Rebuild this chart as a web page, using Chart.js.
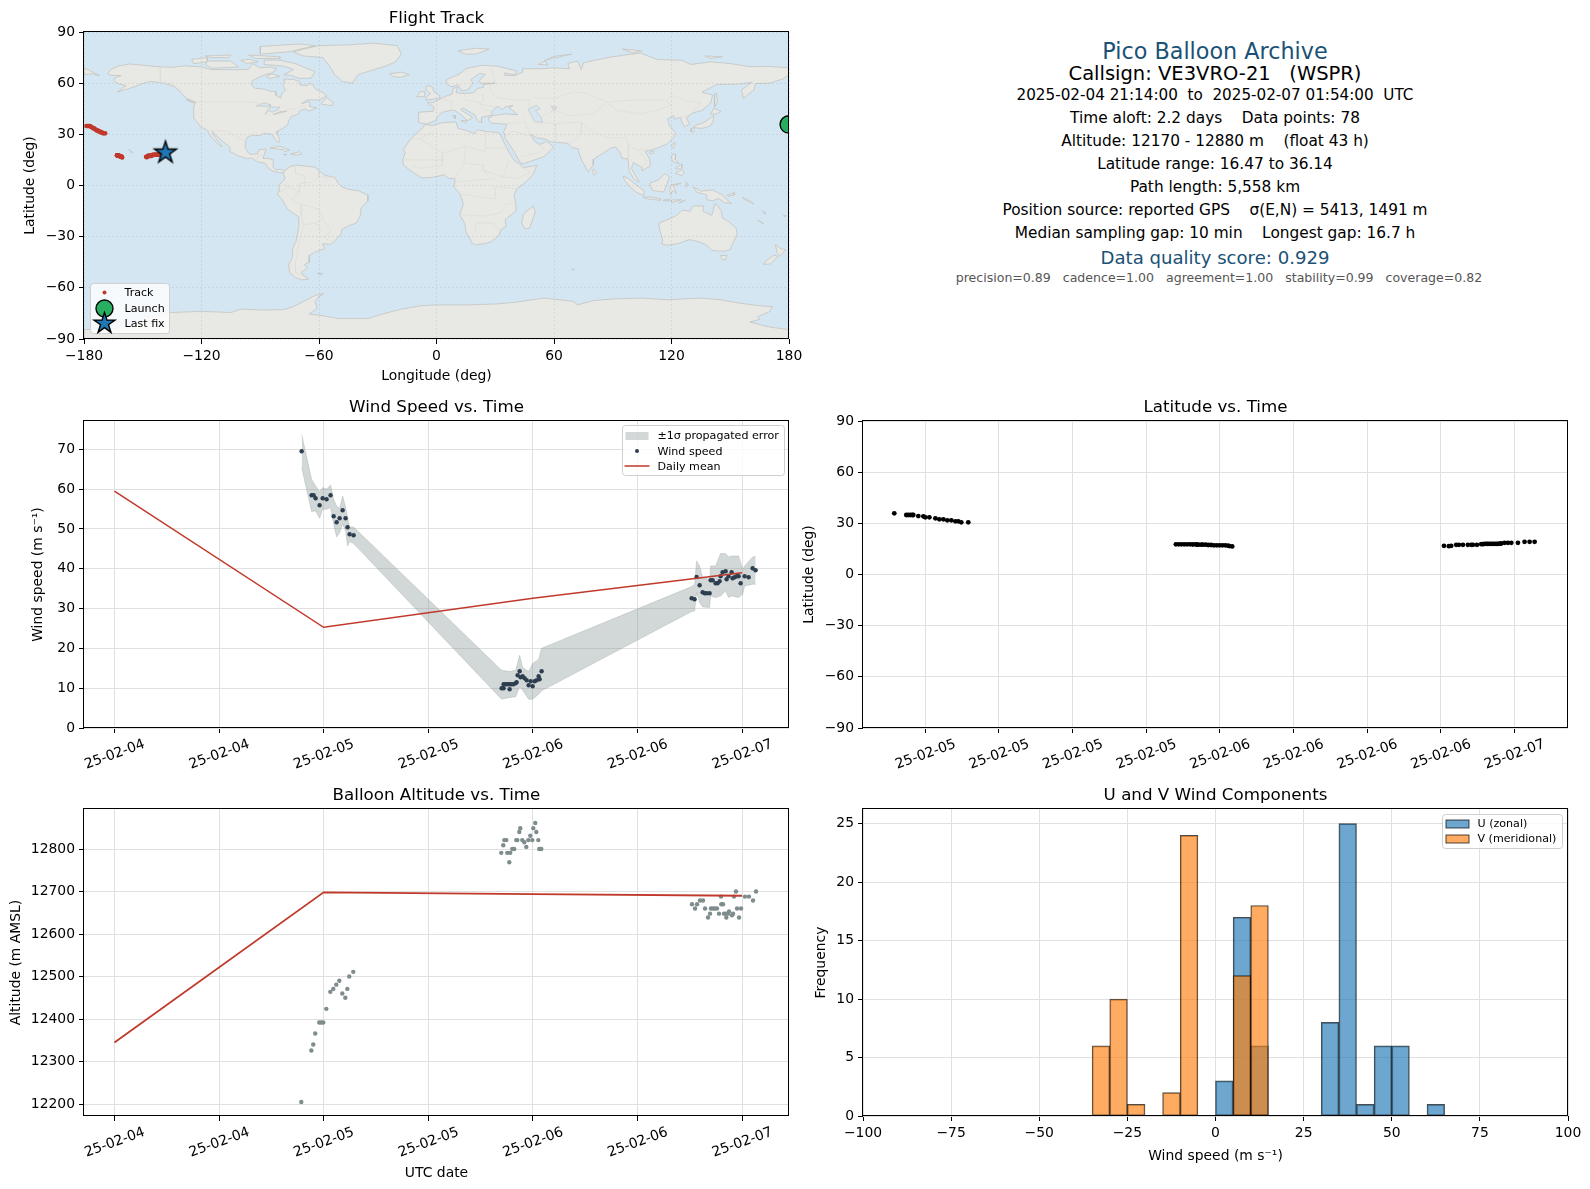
<!DOCTYPE html>
<html>
<head>
<meta charset="utf-8">
<title>Pico Balloon Archive</title>
<script src="https://cdn.jsdelivr.net/npm/chart.js@4/dist/chart.umd.min.js"></script>
<style>
html,body{margin:0;padding:0;background:#fff;font-family:"DejaVu Sans",sans-serif;}
#page{position:relative;width:1590px;height:1189px;overflow:hidden;}
canvas{position:absolute;display:block;}
.info{position:absolute;left:1215px;transform:translate(-50%,-50%);white-space:pre;color:#000;line-height:1;}
</style>
</head>
<body>
<div id="page"></div>
<script>
// ---------- summary text ----------
const infoLines = [
  ['Pico Balloon Archive', 22.3, '#1a5276', 51, 0],
  ['Callsign: VE3VRO-21   (WSPR)', 19.5, '#000', 74, 0],
  ['2025-02-04 21:14:00  to  2025-02-07 01:54:00  UTC', 15.2, '#000', 96, 0],
  ['Time aloft: 2.2 days    Data points: 78', 15.35, '#000', 119, 0],
  ['Altitude: 12170 - 12880 m    (float 43 h)', 15.35, '#000', 142, 0],
  ['Latitude range: 16.47 to 36.14', 15.35, '#000', 165, 0],
  ['Path length: 5,558 km', 15.35, '#000', 188, 0],
  ['Position source: reported GPS    σ(E,N) = 5413, 1491 m', 15.35, '#000', 211, 0],
  ['Median sampling gap: 10 min    Longest gap: 16.7 h', 15.35, '#000', 234, 0],
  ['Data quality score: 0.929', 18.1, '#1a5276', 258, 0],
  ['precision=0.89   cadence=1.00   agreement=1.00   stability=0.99   coverage=0.82', 12.55, '#555', 278, 4]
];

// ---------- time tick labels ----------
const windTickHours = [0,12,24,36,48,60,72];
const windTickLabels = ['25-02-04','25-02-04','25-02-05','25-02-05','25-02-06','25-02-06','25-02-07'];
const latTickHours = [24,30,36,42,48,54,60,66,72];
const latTickLabels = ['25-02-05','25-02-05','25-02-05','25-02-05','25-02-06','25-02-06','25-02-06','25-02-06','25-02-07'];

// ---------- wind speed ----------
const windHours = [21.48,22.62,22.85,23.08,23.54,23.89,24.34,24.80,25.15,25.49,25.84,26.18,26.52,26.75,26.98,27.44,
  44.42,44.65,44.65,44.88,45.11,45.34,45.34,45.57,45.80,46.03,46.14,46.26,46.49,46.60,46.83,47.06,47.29,47.52,47.75,47.98,48.21,48.44,48.67,48.78,49.01,
  66.22,66.56,66.79,67.14,67.48,67.71,67.94,68.28,68.40,68.63,68.97,69.20,69.43,69.54,69.77,70.12,70.23,70.46,70.81,70.92,71.15,71.38,71.61,71.84,72.30,72.76,73.22,73.56];
const windSpeed = [69.5,58.45,58.45,57.7,55.94,57.7,57.45,58.45,53.18,51.67,52.68,54.69,52.68,50.42,48.66,48.41,
  10.0,10.0,11.0,11.0,11.0,9.75,11.0,11.0,11.0,11.26,11.5,13.26,14.27,12.76,13.0,12.5,12.0,10.75,11.76,10.5,11.76,12.0,13.0,12.26,14.27,
  32.6,32.34,37.95,35.86,34.1,33.85,33.85,33.85,37.11,37.11,36.36,36.36,36.86,38.12,39.12,39.37,37.36,38.12,39.12,37.62,37.87,38.12,38.12,36.36,38.12,37.87,40.13,39.62];
const bandHours = [21.48,22.62,23.08,23.54,23.89,24.34,24.80,25.15,25.49,25.84,26.18,26.52,26.75,26.98,27.44,
  44.42,45.34,46.03,46.49,46.83,47.52,47.98,48.67,49.01,
  66.22,66.56,66.79,67.14,67.48,68.28,68.40,68.97,69.54,70.12,70.46,70.81,71.61,72.07,72.30,73.22,73.56];
const bandUpper = [73.77,62.47,60.8,59.37,60.38,59.96,61.05,57.45,55.77,55.19,58.28,55.52,52.85,50.5,50.5,
  14.52,14.18,14.52,18.28,15.19,14.18,16.19,17.28,20.04,
  35.52,36.11,41.97,40.71,37.78,37.36,40.71,40.71,43.81,43.81,42.97,43.22,43.22,39.87,40.71,42.97,43.14];
const bandLower = [65.4,54.35,54.52,52.68,54.94,54.94,55.36,51.17,47.99,49.08,51.17,49.5,45.73,46.82,46.32,
  7.24,7.66,7.82,10.33,9.5,7.24,7.24,8.49,9.33,
  29.25,29.41,34.02,31.5,30.42,30.25,33.18,32.76,33.18,34.43,32.76,33.18,32.76,33.6,35.69,36.11,36.11];
const dailyHours = [0,24,48,72];
const dailyWind = [59.5,25.3,32.6,39.0];
const dailyAlt = [12345,12698,12694,12690];

// ---------- altitude ----------
const altHours = [21.44,22.59,22.81,23.04,23.50,23.73,23.96,24.31,24.77,25.11,25.45,25.80,26.14,26.49,26.72,26.94,27.40,
  44.38,44.61,44.73,44.96,45.07,45.30,45.41,45.64,45.87,46.10,46.22,46.45,46.56,46.79,47.02,47.25,47.48,47.71,47.94,48.05,48.28,48.40,48.63,48.74,48.97,
  66.26,66.61,66.84,67.18,67.53,67.76,68.10,68.33,68.44,68.67,68.90,69.13,69.36,69.59,69.62,69.82,69.93,70.16,70.20,70.39,70.51,70.85,70.97,71.08,71.31,71.43,71.66,71.89,72.34,72.80,73.26,73.61];
const altMeters = [12205,12326,12340,12366,12392,12392,12392,12424,12464,12471,12481,12490,12460,12450,12471,12500,12511,
  12791,12809,12821,12821,12791,12769,12791,12800,12800,12821,12821,12840,12849,12821,12816,12805,12821,12831,12821,12849,12861,12840,12821,12800,12800,
  12670,12660,12670,12679,12679,12660,12639,12648,12660,12660,12660,12660,12648,12688,12670,12670,12648,12648,12639,12648,12653,12644,12648,12688,12700,12660,12639,12660,12688,12688,12679,12700];

// ---------- latitude / track ----------
const latHours = [21.47,22.45,22.61,22.78,22.94,23.02,23.43,23.84,24.0,24.33,24.82,25.14,25.47,25.79,26.12,26.45,26.69,26.93,27.5,
  44.42,44.65,44.88,45.11,45.34,45.57,45.80,46.03,46.14,46.26,46.49,46.60,46.83,47.06,47.29,47.52,47.75,47.98,48.21,48.44,48.67,48.78,49.01,
  66.27,66.67,66.86,67.27,67.49,67.82,68.22,68.5,68.63,68.96,69.31,69.45,69.58,69.72,69.85,70.0,70.12,70.26,70.4,70.54,70.67,70.8,70.94,71.2,71.48,71.76,72.3,72.84,73.25,73.66];
const latDeg = [35.86,34.89,34.89,34.89,34.89,34.89,34.3,34.1,33.52,33.52,32.93,32.35,32.35,31.76,31.76,31.17,31.17,30.59,30.59,
  17.69,17.69,17.69,17.69,17.69,17.69,17.6,17.69,17.5,17.5,17.5,17.5,17.5,17.3,17.3,17.1,17.1,17.1,17.1,17.1,16.9,16.7,16.5,
  16.8,16.6,16.8,17.4,17.4,17.4,17.4,17.4,17.4,17.4,17.8,17.8,18.0,18.0,18.0,18.0,18.0,18.0,18.0,18.0,18.0,18.1,18.2,18.6,18.6,18.6,18.6,19.15,19.15,19.15];
const trackLon = [179.9,-178.8,-178.3,-177.8,-177.3,-176.9,-176.4,-175.9,-175.3,-174.8,-174.2,-173.7,-173.1,-172.6,-172.0,-171.5,-170.9,-170.2,-169.2,
  -163.2,-163.1,-163.0,-162.9,-162.8,-162.7,-162.6,-162.5,-162.4,-162.3,-162.2,-162.1,-162.0,-161.9,-161.8,-161.7,-161.6,-161.4,-161.3,-161.1,-160.9,-160.7,-160.5,
  -148.3,-148.0,-147.7,-147.4,-147.1,-146.8,-146.5,-146.2,-145.9,-145.6,-145.3,-145.0,-144.7,-144.4,-144.1,-143.8,-143.5,-143.2,-142.9,-142.6,-142.3,-142.0,-141.7,-141.4,-141.1,-140.8,-140.4,-139.9,-139.4,-139.0];
const launchLon = [179.9], launchLat = [35.8];
const lastLon = [-138.4], lastLat = [19.3];

// ---------- wind component histogram ----------
const binCenters = [-97.5,-92.5,-87.5,-82.5,-77.5,-72.5,-67.5,-62.5,-57.5,-52.5,-47.5,-42.5,-37.5,-32.5,-27.5,-22.5,-17.5,-12.5,-7.5,-2.5,
  2.5,7.5,12.5,17.5,22.5,27.5,32.5,37.5,42.5,47.5,52.5,57.5,62.5,67.5,72.5,77.5,82.5,87.5,92.5,97.5];
const uCounts = [0,0,0,0,0,0,0,0,0,0,0,0,0,0,0,0,0,0,0,0,3,17,6,0,0,0,8,25,1,6,6,0,1,0,0,0,0,0,0,0];
const vCounts = [0,0,0,0,0,0,0,0,0,0,0,0,0,6,10,1,0,2,24,0,0,12,18,0,0,0,0,0,0,0,0,0,0,0,0,0,0,0,0,0];

// ---------- base map (lon, lat) ----------
const landAreas = [
 // North America
 [[-168,65.6],[-166,68.3],[-162,70.2],[-156.5,71.3],[-150,70.5],[-141,69.6],[-135,69.3],[-128,70.2],[-120,69.5],[-115,68],[-108,68],[-102,67.8],[-96,68.2],[-94,71.5],[-90,69],[-85,69.5],[-81.5,68.5],[-84,66],[-87,65.3],[-90,63.8],[-94,61.5],[-94.5,58.8],[-92.5,57],[-88,56.5],[-85,55.3],[-82.3,55.1],[-82,52.9],[-79.5,51.3],[-79,54],[-77,56],[-78.5,58.7],[-77.5,60.5],[-78,62.4],[-73,62.2],[-70,61],[-69.5,58.8],[-66,58.7],[-64.5,60.3],[-61.5,56.5],[-58,54.5],[-56,52.5],[-60,50.2],[-66,50.2],[-69,48],[-65,49.2],[-64.5,47.8],[-65,46.5],[-61,45.5],[-65.5,43.6],[-67,45],[-70,43.7],[-70.5,41.8],[-74,40.6],[-75.5,38],[-76,35.5],[-78,33.9],[-81,32],[-81.4,30.5],[-80,26.8],[-80.5,25.2],[-81.8,26],[-82.8,28],[-84,30],[-86,30.4],[-89,30.3],[-90,29.2],[-94,29.6],[-97,28],[-97.5,25],[-97.8,22.5],[-96,19],[-94.5,18.2],[-91.5,18.6],[-90.5,21],[-87,21.5],[-88,18],[-88.7,15.9],[-86,15.9],[-83.2,15],[-83.6,11],[-82,9],[-79.8,9.5],[-77.5,8.7],[-78.3,7.5],[-80,7.5],[-83,8.2],[-85.7,10],[-87.5,13],[-91.5,14],[-94.5,16.2],[-97,15.8],[-101.5,17.5],[-105.5,20],[-105.5,22.5],[-109,25.6],[-112.7,29.5],[-114.7,31.7],[-113,28],[-111,25],[-109.5,23],[-110.5,23.2],[-112.2,25],[-114.5,27.8],[-116,30.5],[-117.1,32.5],[-120.5,34.5],[-122.5,37.5],[-124.2,40.2],[-124,46],[-123,49],[-127.5,51],[-130.5,54.5],[-134,58],[-139,60],[-146,61],[-151,59.5],[-154,58],[-158,56.5],[-163,54.8],[-158.5,58.5],[-162,59.5],[-165,61.5],[-164,63.2],[-161,64.5],[-166,64.6]],
 // Greenland and Arctic Canada
 [[-73,78.2],[-68,80],[-60,82],[-45,82.5],[-32,83.5],[-20,82],[-18,77],[-21,72.5],[-26,70],[-32,68],[-40,65],[-43,60],[-48,61],[-52,65],[-54,69],[-58,75],[-68,76]],
 [[-80,73.5],[-72,71.5],[-68,69.5],[-62,66.8],[-64,63],[-70,62.8],[-74,64.5],[-78,65],[-73,68],[-78,70],[-88,71],[-88,73.5]],
 [[-117,73],[-105,73],[-101,69.5],[-115,68.8],[-118,71]],
 [[-125,74],[-117,75],[-117,72.5],[-124,71.5]],
 [[-90,77],[-75,78.5],[-62,82],[-70,83],[-90,81.5]],
 [[-96,76.5],[-80,75.5],[-80,74.5],[-92,74.5]],
 [[-118,76],[-105,76.5],[-106,75],[-115,75]],
 [[-100,73.5],[-95,74],[-91,72.5],[-97,71.5]],
 [[-84,65.5],[-80,64],[-85,62.8],[-87,64]],
 [[-59,47.7],[-53,46.8],[-53,49],[-56,51.5],[-58,49.5]],
 [[-128,50.5],[-123.5,48.5],[-125,48.7]],
 [[-85,22],[-80,23.1],[-75,20.7],[-77.5,19.9],[-78,21]],
 [[-74.5,18.5],[-70,19.8],[-68.5,18.5],[-71.5,17.8]],
 [[-78.3,18.3],[-76.3,18.2],[-77,17.8]],
 // South America
 [[-78.3,7.5],[-77.5,8.7],[-75,11],[-72,12],[-68,11.5],[-62,10.7],[-60,8.5],[-57,6],[-52,4.8],[-50,1],[-48,-1],[-44,-2.5],[-40,-3],[-35.2,-5.5],[-35,-9],[-38.5,-13],[-39,-18],[-41,-22],[-45,-23.7],[-48.5,-26],[-48.8,-28.5],[-52,-32.5],[-54,-34.5],[-58.3,-34.2],[-57,-37],[-62,-39],[-65,-41],[-65,-45],[-67.5,-46.5],[-65.8,-48],[-69,-51],[-68.3,-52.5],[-65.2,-54.9],[-69,-55.3],[-72,-54],[-75,-51],[-75.5,-46.5],[-73.5,-42],[-73.5,-37],[-71.5,-32],[-70.5,-25],[-70.3,-18.5],[-76,-14],[-79,-8],[-81.3,-5],[-80,-2.5],[-80.3,0.5],[-78.5,2.5],[-77.3,4]],
 [[-61,-51.5],[-58,-51.5],[-59,-52.3]],
 // Africa
 [[-6,35.8],[-2,35.2],[3,36.8],[10,37.3],[11,33.5],[15,32.3],[19.5,30.4],[21,32.8],[25,31.7],[32,31],[32.5,29.9],[35,24],[37.3,19],[39.5,15],[43.2,12],[44.5,10.5],[51.2,11.8],[49,6],[45,1.5],[41,-2],[39.5,-6],[40.5,-10],[40.6,-15],[35,-20],[35.5,-24],[32.8,-26],[32,-29],[28,-33],[25,-34],[20,-34.8],[18.3,-34],[15,-27],[14.5,-22.5],[11.8,-17],[13.7,-11],[12,-5],[9,-1],[9.5,4],[6,4.3],[4,6.3],[-2,4.8],[-7.5,4.4],[-13,8.5],[-17,12],[-17.2,15],[-16,19.5],[-17,21],[-13,27.5],[-9.8,31],[-6.8,34]],
 [[49.3,-12],[50.5,-15.5],[47.5,-25],[45,-25.5],[43.5,-22],[44.5,-16.5]],
 // Eurasia
 [[-9,37],[-9.3,39],[-9,43],[-2,43.5],[-1.2,46],[-4.7,48.4],[-1.5,48.7],[1.5,50.5],[4,52],[8,53.7],[8.5,57],[10.7,57.7],[10,54.5],[14,54],[19,54.4],[21,57],[24,57.5],[24,59.3],[30,60],[23,60],[21.3,61],[25,65],[22,65.8],[17.5,62],[18.5,60],[16.5,56.5],[14,55.5],[12.5,56],[11,59],[8,58],[5.5,59],[5,62],[12,65.5],[15,68.5],[23,70.5],[31,70],[41,67.2],[40,65],[34.5,66],[35,64.5],[40,64.5],[44,66.5],[44,68.5],[54,68.5],[60,69],[68,68.5],[67,71.5],[72,73],[74,68],[75,72],[81,73.5],[90,75.5],[104,77.7],[113,73.8],[125,73.5],[130,71],[140,72.5],[150,71.5],[160,69.7],[170,69.8],[180,69],[180,65],[177,62.5],[170,60],[163,59.8],[162,56],[156.8,51],[155.7,56],[161,60.5],[155,59.5],[143,59.2],[135.5,54.7],[141,53],[140,48.3],[135.5,44],[130.8,42.5],[127.5,39.7],[129.4,36],[126.5,34.5],[125,38],[124.5,40],[121.5,39],[121,41],[118,39],[119,35],[122,31],[121,28],[118,24.5],[113.5,22.3],[110,21],[106.5,20],[108.8,15.5],[109.2,11.5],[105,8.7],[105,10.5],[100.5,13.5],[99.5,10],[103.5,2],[101,3.5],[98.5,8],[97.7,15.5],[94.5,16.2],[94,18.8],[91.5,22.5],[89,22],[86.5,20],[80.3,15.5],[80,12],[77.5,8],[74.5,14],[72.8,19],[72.5,21.5],[69,22.3],[67,24.8],[61.5,25.2],[57.5,25.8],[56.5,27],[51,28],[48,30],[50,26],[51.5,25],[53,24],[56.3,26],[59.8,22.5],[55,17],[45,13],[43,13],[39,21],[35,28],[34.9,29.5],[34.2,31.3],[36,36],[32,36.2],[27.5,36.7],[26.3,39.5],[29,41],[35,42],[41.5,41.5],[39,44],[37,45.5],[39,47],[35,46],[33.5,44.5],[31,46.5],[28,43],[28.5,41.2],[26,40.8],[23,40],[23,37],[21.3,37.5],[19.5,41.5],[13.5,45.5],[12.3,44.5],[18.4,40],[16,38],[12,42],[8.7,44.4],[3.2,43],[0.5,40.5],[-0.5,38],[-5.4,36]],
 [[-180,69],[-172,64.5],[-176,65.5],[-180,65]],
 // islands
 [[-5.5,50],[1.5,51.2],[1.7,52.7],[-1.5,55],[-2,57.7],[-5,58.6],[-5.5,56],[-3,54],[-5,52]],
 [[-10,52],[-6,52.2],[-6,55],[-8.5,55]],
 [[-24,65.5],[-18,66.5],[-14,65],[-18.5,63.4],[-22.5,64]],
 [[11,79],[20,80.5],[27,80],[20,77],[15,77]],
 [[52,71],[57,74],[69,77],[60,75.8],[55,73],[57,70.7]],
 [[95,80],[105,79],[100,77.8]],
 [[137,76],[146,75.5],[140,74.5]],
 [[12.5,38],[15.5,38.2],[15,36.8]],
 [[8.2,41],[9.7,41],[9.5,39]],
 [[130.9,34],[135.5,33.5],[140,35],[141.5,38.5],[141.4,41.2],[139.8,39.5],[136.8,37],[132.5,35.3]],
 [[140,42],[143,42],[145.3,43.5],[141.7,45.4]],
 [[130,31.5],[131.5,31.5],[131.5,33.8],[130,33.3]],
 [[142,46],[143.5,49],[143,54],[142,53.5],[142,49]],
 [[120,23],[121,22],[122,25],[121,25.2]],
 [[108.7,19],[110.5,18.5],[111,20],[109.5,20]],
 [[80,9.7],[81.8,7.5],[80.5,6],[79.8,8]],
 [[120,16],[120.5,18.5],[122.2,18.3],[122,15],[124,13],[121,13.7]],
 [[122,7],[125.5,9.5],[126.5,7.5],[125.5,5.8]],
 [[122,10],[125,12.5],[125.3,10.3],[123,9.5]],
 [[109,1.5],[113,3],[116.8,7],[119,5],[117.7,1],[116,-3.8],[110.5,-3],[109,0]],
 [[95.3,5.5],[98,4],[103.5,-1],[106,-3],[105.8,-5.8],[102,-4],[99,-1],[96,3]],
 [[105.3,-6.8],[108.5,-6.7],[114.5,-7.8],[114.3,-8.7],[108,-7.9]],
 [[116,-8.4],[119,-8.3],[119,-8.9],[116,-9]],
 [[120,-8.5],[125,-8.3],[120,-10]],
 [[124,-10],[127,-8.5],[124,-10.4]],
 [[119.5,-5.5],[119,-3],[119.8,0.5],[124,1],[125,1.5],[121,0],[122.5,-4.5],[120.5,-3]],
 [[127.5,2],[128.5,1],[127.8,-0.7]],
 [[131,-0.8],[135,-3.3],[141,-2.6],[146,-5.5],[148,-8],[150.7,-10.6],[147,-10],[144,-7.6],[141,-9],[138,-8.3],[138,-5.5],[133,-4],[132,-2.5]],
 [[148.5,-5.5],[152,-4.2],[152,-5.5],[149,-6.3]],
 [[156,-6.8],[160,-9],[162,-10.8],[158,-8.5]],
 [[166.5,-15],[167.5,-15.5],[168,-17]],
 [[164,-20.2],[167,-22.3],[165.8,-21.8]],
 [[177.2,-17.5],[178.6,-17.8],[177.5,-18.3]],
 [[113.5,-22],[114,-26],[115.5,-32],[115,-34.4],[118,-35],[123.5,-34],[129,-31.7],[134,-33],[138,-35],[140.5,-38],[144,-38.5],[147,-38.5],[150,-37.5],[151.5,-33.5],[153.5,-28.5],[153,-25],[149,-21],[146,-19],[145.5,-15],[143,-11],[142,-11],[141.5,-14],[140.5,-17.5],[136,-15],[136.5,-12],[131,-12],[129.5,-15],[125.5,-14.5],[122,-18],[117,-20.5]],
 [[145,-41],[148.3,-41],[147.5,-43.5],[146,-43.5]],
 [[173,-34.5],[175.5,-37],[178.5,-37.7],[175.2,-41.5],[174,-39.5]],
 [[172.5,-40.7],[174.3,-41.7],[170.5,-46],[167,-46.2],[168,-44.5]],
 [[69,-49],[70.5,-49],[70,-49.7]],
 [[-157.2,21.2],[-155.8,20],[-155,19.5],[-155.7,19]],
 // Antarctica
 [[-180,-90],[-180,-84.5],[-165,-84],[-155,-81.5],[-148,-77.5],[-136,-74.5],[-120,-73.8],[-105,-74.5],[-100,-72.5],[-88,-73],[-78,-72.8],[-73,-71],[-68,-68],[-62,-64.5],[-57.5,-63.3],[-60,-65],[-62,-68],[-61,-72],[-65,-75.5],[-60,-76],[-50,-78],[-35,-78],[-28,-75.5],[-18,-72.5],[-8,-70.5],[0,-70],[15,-70],[30,-69.5],[40,-68.5],[55,-66],[70,-68],[72,-70],[80,-67.5],[90,-66.5],[105,-66],[118,-67],[135,-66],[145,-67],[155,-69],[165,-70.5],[171.5,-71],[170,-74],[164,-77],[165,-78.5],[160,-80],[170,-83],[180,-84.5],[180,-90]]
];
const waterAreas = [
 [[47,45],[51,47],[53,45],[50.5,44],[53.5,40],[54,37],[50,37.5],[49,40],[47.5,43]],
 [[-92,46.7],[-88,48.5],[-85,47.5],[-84.8,46.5],[-87,46.5]],
 [[-87.5,41.7],[-85,46],[-80,46],[-81,44.5],[-83.5,43],[-86,44]],
 [[-83.5,41.6],[-79,42.8],[-76.5,43.5],[-79.5,43.4]],
 [[58.5,46.5],[61.5,46],[60,44]]
];
const borderLines = [
 [[-123,49],[-95,49],[-89,48],[-82.5,45],[-79,43],[-75,45],[-71,45],[-67.5,47],[-67,45]],
 [[-141,69.6],[-141,60.3],[-135,59.5],[-130,55]],
 [[-117,32.5],[-106.5,31.8],[-103,29],[-97.5,26]],
 [[-92,14.5],[-91,17.8],[-88.5,18]],
 [[-52,4.8],[-60,5],[-64,2],[-70,1],[-70,-4],[-74,-8],[-69,-11],[-60,-14],[-58,-20],[-55,-24],[-54,-27],[-57.5,-30],[-53.5,-33.5]],
 [[-69,-18],[-68,-23],[-70,-33],[-72,-45],[-72,-51],[-68.5,-52.5]],
 [[-78.5,1],[-75,-1],[-70,-4]],[[-80,-3.5],[-75,-1]],
 [[-72,12],[-72,7],[-67.5,6],[-67,1]],[[-60,8.5],[-60,5]],[[-57,6],[-56,2]],
 [[-69,-11],[-69,-18],[-70.3,-18.5]],[[-58,-20],[-62,-22],[-68,-23]],[[-58,-27],[-62,-22]],
 [[-8.5,27.5],[-13,27.5]],[[-1,32],[-8.5,27.5],[3,19],[15,23],[25,20],[25,31.5]],[[25,22],[37,22]],[[15,23],[14,13],[9,4]],[[3,19],[3,11.5],[-3,11],[-8,10],[-12,12]],[[-17,15],[-5,15],[4,15]],[[14,13],[24,12],[24,9],[34,5],[41,4],[48,8],[43,11]],[[12,-5],[30,-8],[30,-1],[34,-1],[41,-2]],[[12,-17],[24,-18],[33,-16],[35,-11],[40.5,-10.5]],[[20,-28],[20,-22],[29,-22],[32,-26]],[[9,2],[18,3],[30,4]],[[24,9],[27,5]],[[37,15],[36,12],[34,5]],
 [[-1.8,43.4],[3,42.5]],[[2.5,51],[8,49],[7,44]],[[14,54],[15,50],[22,49],[24,44],[28,44]],[[23.5,54],[24,50],[22,48],[30,46]],[[28,70],[30,60]],[[40,50],[30,52],[27,56],[28,60]],[[40,50],[48,50],[47,46]],
 [[50,51.5],[60,51],[70,55],[77,54],[87,49]],[[87,49],[98,50],[107,50],[117,50],[120,53],[127,50],[135,48.5],[131,43]],[[87,49],[92,44],[105,42],[112,44],[120,47],[117,50]],[[74,37],[79,32],[88,28],[97,28],[98,24],[102,21],[108,21.5]],[[74,37],[74,31],[70,26],[68,24]],[[61,25],[61,30],[61,36],[54,37]],[[48,30],[46,35],[44.5,39.5]],[[36,36.5],[44,37]],[[35,29],[39,32],[48,29]],[[43,17],[52,19],[55,22],[51,24.5]],[[54,41],[60,44],[68,41],[80,42],[87,49]],[[61,36],[66,37],[74,37]],[[98,24],[98,15]],[[102,21],[105,18],[107.5,14],[105,11]],[[124.5,40],[130.8,42.5]]
];

// ---------- axis ticks ----------
const lonTicks = [-180,-120,-60,0,60,120,180];
const latTicks = [-90,-60,-30,0,30,60,90];
const windTicks = [0,10,20,30,40,50,60,70];
const altTicks = [12200,12300,12400,12500,12600,12700,12800];
const histXTicks = [-100,-75,-50,-25,0,25,50,75,100];
const histYTicks = [0,5,10,15,20,25];

// ---------- helpers ----------
const FONT = '"DejaVu Sans", sans-serif';
const TICK = 13.9, LABEL = 13.9, TITLE = 16.7, LEG = 11.1;
const GRID = '#e0e0e0';
const RED = '#c0392b', NAVY = '#2c3e50', GREY = '#7f8c8d';
const pts = (xs, ys) => xs.map((x, i) => ({x, y: ys[i]}));
const closed = p => p.concat([p[0]]).map(([x, y]) => ({x, y}));
const minus = v => v < 0 ? '\u2212' + Math.abs(v) : String(v);

Chart.defaults.font.family = FONT;
Chart.defaults.color = '#000';
Chart.defaults.animation = false;

const starCanvas = (() => {
  const c = document.createElement('canvas'); c.width = 28; c.height = 28;
  const g = c.getContext('2d'); starPath(g, 14, 14, 11.5);
  g.fillStyle = '#1f77b4'; g.fill(); g.lineWidth = 1.4; g.strokeStyle = '#000'; g.lineJoin = 'miter'; g.stroke();
  return c;
})();
function starPath(g, cx, cy, R) {
  g.beginPath();
  for (let i = 0; i < 10; i++) {
    const r = i % 2 ? R * 0.382 : R, a = -Math.PI / 2 + i * Math.PI / 5;
    const x = cx + r * Math.cos(a), y = cy + r * Math.sin(a);
    i ? g.lineTo(x, y) : g.moveTo(x, y);
  }
  g.closePath();
}

const framePlugin = {
  id: 'frame',
  beforeDraw(chart, a, o) {
    if (o.ocean) { const {left, top, width, height} = chart.chartArea; const g = chart.ctx; g.save(); g.fillStyle = o.ocean; g.fillRect(left, top, width, height); g.restore(); }
  },
  afterDraw(chart) {
    const {left, top, right, bottom} = chart.chartArea; const g = chart.ctx;
    g.save(); g.strokeStyle = '#000'; g.lineWidth = 1;
    g.strokeRect(Math.round(left) - .5, Math.round(top) - .5, Math.round(right) - Math.round(left), Math.round(bottom) - Math.round(top));
    g.restore();
  }
};
const legendPlugin = {
  id: 'boxLegend',
  afterDraw(chart, a, o) {
    if (!o.items) return;
    const g = chart.ctx, c = chart.canvas, ox = parseFloat(c.style.left), oy = parseFloat(c.style.top);
    const [bx, by, bw, bh] = o.box;
    g.save();
    g.beginPath(); g.roundRect(bx - ox + .5, by - oy + .5, bw, bh, 3);
    g.fillStyle = 'rgba(255,255,255,0.8)'; g.fill(); g.strokeStyle = '#cfcfcf'; g.lineWidth = 1; g.stroke();
    g.font = LEG + 'px ' + FONT; g.textBaseline = 'middle'; g.textAlign = 'left';
    for (const it of o.items) {
      const mx = o.markX - ox, y = it.y - oy;
      if (it.kind === 'dot') { g.beginPath(); g.arc(mx, y, it.r, 0, 7); g.fillStyle = it.color; g.fill(); }
      if (it.kind === 'circle') { g.beginPath(); g.arc(mx, y, it.r, 0, 7); g.fillStyle = it.color; g.fill(); g.strokeStyle = '#000'; g.lineWidth = 1.4; g.stroke(); }
      if (it.kind === 'star') { starPath(g, mx, y, it.r); g.fillStyle = it.color; g.fill(); g.strokeStyle = '#000'; g.lineWidth = 1.4; g.stroke(); }
      if (it.kind === 'line') { g.beginPath(); g.moveTo(mx - 12.5, y); g.lineTo(mx + 12.5, y); g.strokeStyle = it.color; g.lineWidth = 1.5; g.stroke(); }
      if (it.kind === 'patch') { g.fillStyle = it.color; g.fillRect(mx - 11.5, y - 3.5, 23, 8); if (it.edge) { g.strokeStyle = it.edge; g.lineWidth = 1; g.strokeRect(mx - 11.5, y - 3.5, 23, 8); } }
      g.fillStyle = '#000'; g.fillText(it.label, o.textX - ox, y + 1);
    }
    g.restore();
  }
};

function panel(p) {
  const page = document.getElementById('page');
  const c = document.createElement('canvas');
  const L = p.x0 - p.axw, T = p.y0 - 32, W = p.axw + p.w + 34, H = 32 + p.h + p.bh;
  c.width = W; c.height = H;
  c.style.left = L + 'px'; c.style.top = T + 'px'; c.style.width = W + 'px'; c.style.height = H + 'px';
  page.appendChild(c);
  const xTicks = p.xTicks, yTicks = p.yTicks;
  const xScale = Object.assign({
    type: 'linear', min: p.xMin, max: p.xMax, offset: false,
    afterBuildTicks: s => { s.ticks = xTicks.map(value => ({value})); },
    afterFit: s => { s.height = p.bh; },
    grid: Object.assign({color: GRID, lineWidth: 1, tickColor: '#000', tickLength: 5, tickWidth: 1, offset: false}, p.xGrid || {}),
    border: Object.assign({display: false}, p.xBorder || {}),
    ticks: Object.assign({autoSkip: false, padding: 4, font: {size: TICK, family: FONT}, color: '#000',
      callback: p.xLabels ? (v, i) => p.xLabels[i] : v => minus(v)}, p.xTickOpts || {}),
    title: p.xTitle ? {display: true, text: p.xTitle, font: {size: LABEL, family: FONT}, color: '#000', padding: {top: 0, bottom: p.xTitlePad || 0}} : {display: false}
  });
  const yScale = {
    type: 'linear', min: p.yMin, max: p.yMax,
    afterBuildTicks: s => { s.ticks = yTicks.map(value => ({value})); },
    afterFit: s => { s.width = p.axw; },
    grid: Object.assign({color: GRID, lineWidth: 1, tickColor: '#000', tickLength: 5, tickWidth: 1}, p.yGrid || {}),
    border: Object.assign({display: false}, p.yBorder || {}),
    ticks: {autoSkip: false, padding: 4, font: {size: TICK, family: FONT}, color: '#000', callback: v => minus(v)},
    title: {display: true, text: p.yTitle, font: {size: LABEL, family: FONT}, color: '#000', padding: {top: p.yTitlePad || 0, bottom: 0}}
  };
  return new Chart(c, {
    type: p.type || 'line',
    data: {datasets: p.datasets},
    options: {
      responsive: false, maintainAspectRatio: false, animation: false, events: [], devicePixelRatio: 1,
      layout: {padding: {left: 0, right: 34, top: 0, bottom: 0}},
      scales: {x: xScale, y: yScale},
      plugins: {
        legend: {display: false}, tooltip: {enabled: false},
        title: {display: true, fullSize: false, text: p.title, font: {size: TITLE, weight: 'normal', family: FONT}, color: '#000', padding: {top: 9, bottom: 3}},
        frame: {ocean: p.ocean}, boxLegend: p.legend || {}
      }
    },
    plugins: [framePlugin, legendPlugin]
  });
}

// ---------- map datasets ----------
const LAND = '#e8e8e4', COAST = '#c4c4c2', OCEAN = '#d4e6f1', BORDER = '#dcdcd8';
const mapDatasets = [];
landAreas.forEach((poly, i) => mapDatasets.push({type: 'line', label: 'land' + i, data: closed(poly), fill: 'shape', backgroundColor: LAND, borderColor: COAST, borderWidth: .8, pointRadius: 0, tension: 0, order: 30}));
waterAreas.forEach((poly, i) => mapDatasets.push({type: 'line', label: 'water' + i, data: closed(poly), fill: 'shape', backgroundColor: OCEAN, borderColor: COAST, borderWidth: .7, pointRadius: 0, tension: 0, order: 20}));
borderLines.forEach((line, i) => mapDatasets.push({type: 'line', label: 'border' + i, data: line.map(([x, y]) => ({x, y})), fill: false, borderColor: BORDER, borderWidth: .7, pointRadius: 0, tension: 0, order: 25}));
mapDatasets.push({type: 'line', label: 'Track', data: pts(trackLon, latDeg), showLine: false, pointRadius: 2.3, pointBackgroundColor: RED, pointBorderWidth: 0, order: 3});
mapDatasets.push({type: 'line', label: 'Launch', data: pts(launchLon, launchLat), showLine: false, pointRadius: 8.7, pointBackgroundColor: '#27ae60', pointBorderColor: '#000', pointBorderWidth: 1.4, order: 2, clip: 0});
mapDatasets.push({type: 'line', label: 'Last fix', data: pts(lastLon, lastLat), showLine: false, pointStyle: starCanvas, pointRadius: 12, order: 1});

// ---------- panels ----------
const dateTickOpts = {minRotation: 20, maxRotation: 20, labelOffset: 30, padding: 3};

panel({
  x0: 84, y0: 32, w: 705, h: 307, axw: 62, bh: 46, title: 'Flight Track', ocean: OCEAN,
  xMin: -180, xMax: 180, yMin: -90, yMax: 90, xTicks: lonTicks, yTicks: latTicks,
  xTitle: 'Longitude (deg)', yTitle: 'Latitude (deg)',
  xGrid: {color: 'rgba(120,120,120,0.18)', lineWidth: .8, z: 1}, yGrid: {color: 'rgba(120,120,120,0.18)', lineWidth: .8, z: 1},
  xBorder: {dash: [2, 2]}, yBorder: {dash: [2, 2]},
  datasets: mapDatasets,
  legend: {box: [90, 283, 79, 50], markX: 104.5, textX: 124.5, items: [
    {kind: 'dot', r: 2, color: RED, label: 'Track', y: 292.5},
    {kind: 'circle', r: 8.5, color: '#27ae60', label: 'Launch', y: 308.5},
    {kind: 'star', r: 11, color: '#1f77b4', label: 'Last fix', y: 323.5}
  ]}
});

panel({
  x0: 84, y0: 421, w: 705, h: 307, axw: 54, bh: 72, title: 'Wind Speed vs. Time',
  xMin: -3.49, xMax: 77.39, yMin: 0, yMax: 77.1, xTicks: windTickHours, xLabels: windTickLabels, yTicks: windTicks,
  yTitle: 'Wind speed (m s\u207B\u00B9)', xTickOpts: dateTickOpts,
  datasets: [
    {label: 'band lower', data: pts(bandHours, bandLower), borderColor: 'rgba(127,140,141,0.25)', borderWidth: 1, pointRadius: 0, tension: 0, fill: false, order: 5},
    {label: '\u00B11\u03C3 propagated error', data: pts(bandHours, bandUpper), borderColor: 'rgba(127,140,141,0.25)', borderWidth: 1, pointRadius: 0, tension: 0, fill: '-1', backgroundColor: 'rgba(127,140,141,0.35)', order: 4},
    {label: 'Wind speed', data: pts(windHours, windSpeed), showLine: false, pointRadius: 2.2, pointBackgroundColor: NAVY, pointBorderWidth: 0, order: 3},
    {label: 'Daily mean', data: pts(dailyHours, dailyWind), borderColor: RED, borderWidth: 1.5, pointRadius: 0, tension: 0, order: 2}
  ],
  legend: {box: [622, 425, 162, 50], markX: 637, textX: 657.5, items: [
    {kind: 'patch', color: 'rgba(127,140,141,0.35)', label: '\u00B11\u03C3 propagated error', y: 435.5},
    {kind: 'dot', r: 2, color: NAVY, label: 'Wind speed', y: 451},
    {kind: 'line', color: RED, label: 'Daily mean', y: 466}
  ]}
});

panel({
  x0: 863, y0: 421, w: 705, h: 307, axw: 62, bh: 72, title: 'Latitude vs. Time',
  xMin: 18.92, xMax: 76.38, yMin: -90, yMax: 90, xTicks: latTickHours, xLabels: latTickLabels, yTicks: latTicks,
  yTitle: 'Latitude (deg)', xTickOpts: dateTickOpts,
  datasets: [{label: 'Latitude', data: pts(latHours, latDeg), showLine: false, pointRadius: 2.4, pointBackgroundColor: '#000', pointBorderWidth: 0}]
});

panel({
  x0: 84, y0: 809, w: 705, h: 307, axw: 76, bh: 66, title: 'Balloon Altitude vs. Time',
  xMin: -3.49, xMax: 77.39, yMin: 12172, yMax: 12894, xTicks: windTickHours, xLabels: windTickLabels, yTicks: altTicks,
  xTitle: 'UTC date', yTitle: 'Altitude (m AMSL)', xTickOpts: dateTickOpts,
  datasets: [
    {label: 'Altitude', data: pts(altHours, altMeters), showLine: false, pointRadius: 2.2, pointBackgroundColor: GREY, pointBorderWidth: 0, order: 3},
    {label: 'Daily mean', data: pts(dailyHours, dailyAlt), borderColor: RED, borderWidth: 1.8, pointRadius: 0, tension: 0, order: 2}
  ]
});

panel({
  type: 'bar',
  x0: 863, y0: 809, w: 705, h: 307, axw: 50, bh: 49, title: 'U and V Wind Components',
  xMin: -100, xMax: 100, yMin: 0, yMax: 26.25, xTicks: histXTicks, yTicks: histYTicks,
  xTitle: 'Wind speed (m s\u207B\u00B9)', yTitle: 'Frequency',
  datasets: [
    {label: 'U (zonal)', data: pts(binCenters, uCounts), backgroundColor: 'rgba(31,119,180,0.65)', borderColor: 'rgba(0,0,0,0.7)', borderWidth: 1, borderSkipped: false, barPercentage: 1, categoryPercentage: 1, grouped: false, order: 2},
    {label: 'V (meridional)', data: pts(binCenters, vCounts), backgroundColor: 'rgba(255,127,14,0.65)', borderColor: 'rgba(0,0,0,0.7)', borderWidth: 1, borderSkipped: false, barPercentage: 1, categoryPercentage: 1, grouped: false, order: 1}
  ],
  legend: {box: [1442, 814, 120, 34], markX: 1457.5, textX: 1477.5, items: [
    {kind: 'patch', color: 'rgba(31,119,180,0.65)', edge: 'rgba(0,0,0,0.7)', label: 'U (zonal)', y: 823.5},
    {kind: 'patch', color: 'rgba(255,127,14,0.65)', edge: 'rgba(0,0,0,0.7)', label: 'V (meridional)', y: 838.5}
  ]}
});

// ---------- text panel ----------
infoLines.forEach(([text, size, color, y, dx]) => {
  const d = document.createElement('div');
  d.className = 'info'; d.textContent = text;
  d.style.fontSize = size + 'px'; d.style.color = color; d.style.top = y + 'px';
  d.style.left = (1215 + dx) + 'px';
  document.getElementById('page').appendChild(d);
});
</script>
</body>
</html>
